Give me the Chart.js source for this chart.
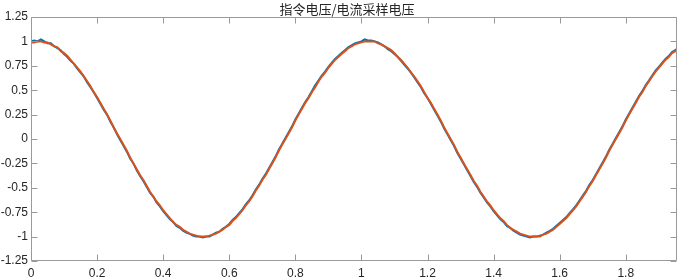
<!DOCTYPE html>
<html>
<head>
<meta charset="utf-8">
<script src="https://cdn.jsdelivr.net/npm/chart.js@4.4.1/dist/chart.umd.min.js"></script>
<style>
html,body{margin:0;padding:0;background:#fff;}
#c{display:block;}
</style>
</head>
<body>
<canvas id="c" width="684" height="277"></canvas>
<script>
// Chart title
const titleText = '指令电压/电流采样电压';

// Sampling grid: t = sampleIndex * sampleStep (s)
const sampleStep = 0.01;

// Orange series (指令电压)
const commandVoltage = [
 0.99,0.99,1.00,1.00,0.99,0.99,0.97,0.95,0.94,0.90,
 0.88,0.85,0.81,0.77,0.73,0.69,0.64,0.59,0.54,0.48,
 0.43,0.37,0.31,0.25,0.19,0.12,0.06,0.00,-0.06,-0.12,
 -0.19,-0.25,-0.31,-0.37,-0.42,-0.48,-0.54,-0.59,-0.64,-0.68,
 -0.73,-0.77,-0.81,-0.85,-0.88,-0.90,-0.93,-0.95,-0.97,-0.98,
 -0.99,-1.00,-1.00,-1.00,-0.99,-0.98,-0.97,-0.95,-0.93,-0.90,
 -0.88,-0.84,-0.81,-0.77,-0.73,-0.68,-0.64,-0.59,-0.53,-0.48,
 -0.42,-0.37,-0.31,-0.25,-0.19,-0.12,-0.06,0.00,0.06,0.12,
 0.19,0.25,0.31,0.37,0.42,0.48,0.53,0.59,0.64,0.68,
 0.73,0.77,0.81,0.84,0.87,0.90,0.93,0.95,0.97,0.98,
 0.99,1.00,1.00,1.00,1.00,0.98,0.97,0.95,0.93,0.91,
 0.88,0.84,0.81,0.77,0.73,0.68,0.64,0.59,0.54,0.48,
 0.42,0.37,0.31,0.25,0.19,0.12,0.06,0.00,-0.06,-0.13,
 -0.19,-0.25,-0.31,-0.37,-0.43,-0.48,-0.54,-0.59,-0.64,-0.68,
 -0.73,-0.77,-0.81,-0.84,-0.88,-0.91,-0.93,-0.95,-0.97,-0.98,
 -0.99,-1.00,-1.00,-1.00,-1.00,-0.98,-0.97,-0.95,-0.93,-0.90,
 -0.87,-0.84,-0.81,-0.77,-0.73,-0.69,-0.64,-0.59,-0.54,-0.48,
 -0.43,-0.37,-0.31,-0.25,-0.19,-0.12,-0.06,0.00,0.06,0.12,
 0.19,0.25,0.31,0.37,0.43,0.48,0.54,0.59,0.64,0.69,
 0.73,0.77,0.81,0.84,0.88,0.90,0.93
];

// Blue series (电流采样电压)
const sampledVoltage = [
 1.00,1.01,1.00,1.02,1.00,0.98,0.98,0.95,0.93,0.91,
 0.87,0.84,0.80,0.77,0.72,0.68,0.64,0.58,0.53,0.48,
 0.42,0.36,0.30,0.25,0.18,0.12,0.05,-0.01,-0.07,-0.13,
 -0.20,-0.25,-0.32,-0.38,-0.43,-0.49,-0.55,-0.59,-0.65,-0.69,
 -0.74,-0.78,-0.82,-0.85,-0.89,-0.91,-0.94,-0.96,-0.97,-0.99,
 -1.00,-1.00,-1.01,-1.00,-1.00,-0.98,-0.96,-0.95,-0.92,-0.90,
 -0.87,-0.83,-0.80,-0.76,-0.72,-0.67,-0.63,-0.58,-0.52,-0.47,
 -0.41,-0.36,-0.30,-0.24,-0.18,-0.11,-0.05,0.01,0.07,0.13,
 0.20,0.26,0.32,0.38,0.43,0.49,0.55,0.60,0.65,0.69,
 0.74,0.78,0.82,0.85,0.88,0.91,0.94,0.96,0.98,0.99,
 1.00,1.02,1.01,1.01,1.00,0.99,0.97,0.95,0.92,0.90,
 0.87,0.84,0.80,0.76,0.72,0.68,0.63,0.58,0.53,0.47,
 0.42,0.36,0.30,0.24,0.18,0.11,0.05,-0.01,-0.07,-0.14,
 -0.20,-0.26,-0.32,-0.38,-0.44,-0.49,-0.55,-0.60,-0.65,-0.69,
 -0.74,-0.78,-0.82,-0.85,-0.89,-0.91,-0.94,-0.96,-0.98,-0.99,
 -1.00,-1.01,-1.00,-1.00,-0.99,-0.98,-0.96,-0.94,-0.92,-0.89,
 -0.86,-0.83,-0.80,-0.76,-0.72,-0.68,-0.63,-0.58,-0.53,-0.47,
 -0.42,-0.36,-0.30,-0.24,-0.18,-0.11,-0.05,0.01,0.07,0.13,
 0.20,0.26,0.32,0.38,0.44,0.49,0.55,0.60,0.65,0.70,
 0.74,0.78,0.82,0.85,0.89,0.91,0.94
];

// Axis ranges / tick steps
const xRange = [0, 1.955];
const xTickStep = 0.2;
const yRange = [-1.25, 1.25];
const yTickStep = 0.25;

const fmt = v => String(Math.round(v * 100) / 100);
const toPoints = arr => arr.map((y, i) => ({ x: Math.round(i * sampleStep * 1000) / 1000, y }));

const axisColor = '#9a9a9a';
const textColor = '#262626';

const boxPlugin = {
  id: 'matlabBox',
  afterDraw(chart) {
    const { ctx, chartArea: a, scales } = chart;
    const L = Math.round(a.left) + 0.5, R = Math.round(a.right) - 0.5;
    const T = Math.round(a.top) + 0.5, B = Math.round(a.bottom) - 0.5;
    const tl = 6;
    ctx.save();
    ctx.strokeStyle = axisColor;
    ctx.lineWidth = 1;
    ctx.beginPath();
    ctx.rect(L, T, R - L, B - T);
    scales.x.ticks.forEach(t => {
      const px = Math.round(scales.x.getPixelForValue(t.value)) + 0.5;
      ctx.moveTo(px, B); ctx.lineTo(px, B - tl);
      ctx.moveTo(px, T); ctx.lineTo(px, T + tl);
    });
    scales.y.ticks.forEach(t => {
      const py = Math.round(scales.y.getPixelForValue(t.value)) + 0.5;
      ctx.moveTo(L, py); ctx.lineTo(L + tl, py);
      ctx.moveTo(R, py); ctx.lineTo(R - tl, py);
    });
    ctx.stroke();
    // title, centred as in the reference
    ctx.fillStyle = textColor;
    ctx.font = 'normal 13px "Noto Sans CJK SC", sans-serif';
    ctx.textAlign = 'center';
    ctx.textBaseline = 'middle';
    ctx.fillText(titleText, 347, 9);
    ctx.restore();
  }
};

Chart.defaults.font.family = '"Liberation Sans", Arial, Helvetica, sans-serif';
Chart.defaults.color = textColor;

new Chart(document.getElementById('c'), {
  type: 'line',
  data: {
    datasets: [
      {
        label: '指令电压',
        data: toPoints(commandVoltage),
        borderColor: '#D95319',
        borderWidth: 2,
        pointRadius: 0,
        tension: 0,
        fill: false
      },
      {
        label: '电流采样电压',
        data: toPoints(sampledVoltage),
        borderColor: '#0072BD',
        borderWidth: 2,
        pointRadius: 0,
        tension: 0,
        fill: false
      }
    ]
  },
  options: {
    responsive: false,
    animation: false,
    devicePixelRatio: 1,
    layout: { padding: { left: 0, right: 7, top: 17, bottom: 0 } },
    plugins: {
      legend: { display: false },
      tooltip: { enabled: false },
      title: { display: false }
    },
    scales: {
      x: {
        type: 'linear',
        min: xRange[0],
        max: xRange[1],
        grid: { display: true, drawOnChartArea: false, drawTicks: false },
        border: { display: false },
        ticks: {
          stepSize: xTickStep,
          includeBounds: false,
          maxRotation: 0,
          autoSkip: false,
          padding: 5,
          font: { size: 12 },
          color: textColor,
          callback: v => fmt(v)
        },
        afterFit(s) { s.height = 16; }
      },
      y: {
        type: 'linear',
        min: yRange[0],
        max: yRange[1],
        grid: { display: true, drawOnChartArea: false, drawTicks: false },
        border: { display: false },
        ticks: {
          stepSize: yTickStep,
          includeBounds: false,
          autoSkip: false,
          padding: 3,
          font: { size: 12 },
          color: textColor,
          callback: v => fmt(v)
        },
        afterFit(s) { s.width = 31; }
      }
    }
  },
  plugins: [boxPlugin]
});
</script>
</body>
</html>
